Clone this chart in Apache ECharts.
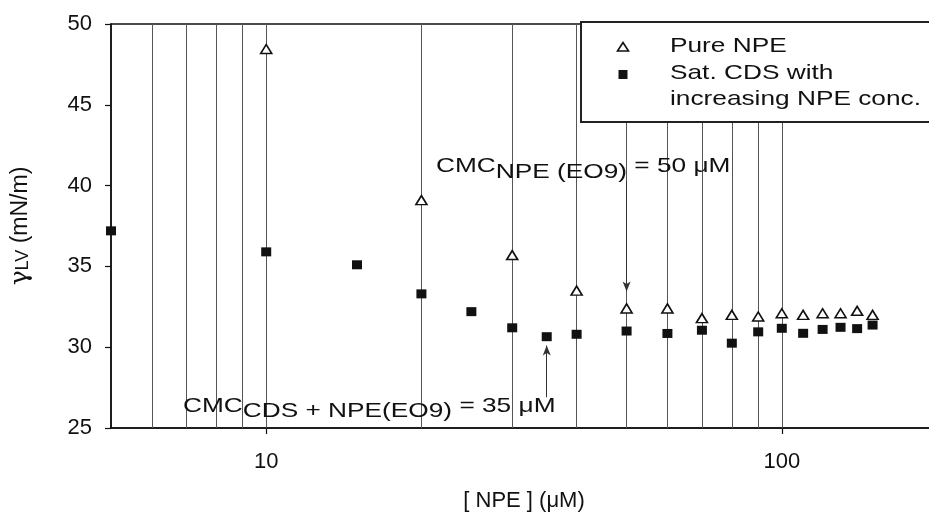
<!DOCTYPE html>
<html>
<head>
<meta charset="utf-8">
<script src="https://cdn.jsdelivr.net/npm/echarts@6.0.0/dist/echarts.min.js"></script>
<style>
  html, body { margin: 0; padding: 0; background: #fff; }
  #chart { width: 929px; height: 513px; }
</style>
</head>
<body>
<div id="chart"></div>
<script>
// Surface tension of pure NPE solutions and of saturated CDS solutions with added NPE
const concNPE  = [10, 20, 30, 40, 50, 60, 70, 80, 90, 100, 110, 120, 130, 140, 150];
const gammaNPE = [48.45, 39.1, 35.7, 33.5, 32.4, 32.4, 31.8, 32.0, 31.9, 32.1, 32.0, 32.1, 32.1, 32.25, 32.0];

const concCDS  = [5, 10, 15, 20, 25, 30, 35, 40, 50, 60, 70, 80, 90, 100, 110, 120, 130, 140, 150];
const gammaCDS = [37.2, 35.9, 35.1, 33.3, 32.2, 31.2, 30.65, 30.8, 31.0, 30.85, 31.05, 30.25, 30.95, 31.17, 30.86, 31.1, 31.23, 31.15, 31.37];

// vertical reference lines at every decade step between 6 and 100
const gridConc = [6, 7, 8, 9, 10, 20, 30, 40, 50, 60, 70, 80, 90, 100];

// labelled x ticks
const xTickLabels = [10, 100];

// CMC markers: concentration, arrow start and arrow tip (mN/m)
const cmcNPE = [50, 40.3, 33.45];
const cmcMix = [35, 26.9, 30.1];

const FONT = '"Liberation Sans", Arial, Helvetica, sans-serif';
const INK = '#111';

const chart = echarts.init(document.getElementById('chart'));

const pairs = (xs, ys) => xs.map((x, i) => [x, ys[i]]);

chart.setOption({
  animation: false,
  backgroundColor: '#fff',
  grid: {
    left: 111, top: 24, bottom: 85, width: 826,
    outerBoundsMode: 'none', containLabel: false,
    show: true, borderColor: INK, borderWidth: 1.5, backgroundColor: 'transparent'
  },
  xAxis: {
    type: 'log', logBase: 10, min: 5, max: 200,
    name: '[ NPE ] (μM)', nameLocation: 'middle', nameGap: 62,
    nameTextStyle: { fontSize: 22, fontFamily: FONT, color: INK },
    axisLine: { lineStyle: { color: INK, width: 1.5 } },
    axisTick: { show: true, length: 6, lineStyle: { color: INK, width: 1.2 } },
    axisLabel: {
      fontSize: 22, fontFamily: FONT, color: INK, margin: 23,
      showMinLabel: false, showMaxLabel: false,
      formatter: v => (xTickLabels.indexOf(Math.round(v)) >= 0 ? String(Math.round(v)) : '')
    },
    splitLine: { show: false }
  },
  yAxis: {
    type: 'value', min: 25, max: 50, interval: 5,
    name: '{g|γ}{s|LV}{n| (mN/m)}', nameLocation: 'middle', nameGap: 78,
    nameTextStyle: {
      fontSize: 22, fontFamily: FONT, color: INK,
      rich: {
        g: { fontSize: 25, fontFamily: '"DejaVu Serif", serif', color: INK },
        s: { fontSize: 18, fontFamily: FONT, color: INK, padding: [5, 0, 0, 0] },
        n: { fontSize: 23, fontFamily: FONT, color: INK }
      }
    },
    axisLine: { show: true, lineStyle: { color: INK, width: 1.5 } },
    axisTick: { show: true, length: 6, lineStyle: { color: INK, width: 1.2 } },
    axisLabel: { fontSize: 22, fontFamily: FONT, color: INK, margin: 19 },
    splitLine: { show: false }
  },
  series: [
    {
      name: 'Pure NPE',
      type: 'scatter',
      z: 3,
      data: pairs(concNPE, gammaNPE),
      symbol: 'triangle',
      symbolSize: [11, 9],
      itemStyle: { color: '#fff', borderColor: INK, borderWidth: 1.6, opacity: 1 },
      markLine: {
        silent: true, z: 1,
        symbol: ['none', 'none'],
        label: { show: false },
        lineStyle: { color: '#555', width: 1, type: 'solid' },
        data: gridConc.map(v => ({ xAxis: v }))
      }
    },
    {
      name: 'Sat. CDS with increasing NPE conc.',
      type: 'scatter',
      z: 4,
      data: pairs(concCDS, gammaCDS),
      symbol: 'rect',
      symbolSize: [10, 9],
      itemStyle: { color: INK, opacity: 1 },
      markLine: {
        silent: true, z: 2,
        symbol: ['none', 'arrow'],
        symbolSize: [6, 10],
        label: { show: false },
        lineStyle: { color: '#333', width: 1, type: 'solid' },
        data: [
          [{ coord: [cmcNPE[0], cmcNPE[1]] }, { coord: [cmcNPE[0], cmcNPE[2]] }],
          [{ coord: [cmcMix[0], cmcMix[1]] }, { coord: [cmcMix[0], cmcMix[2]] }]
        ]
      }
    }
  ],
  graphic: [
    // legend box
    { type: 'rect', z: 100, shape: { x: 581, y: 22, width: 400, height: 100 },
      style: { fill: '#fff', stroke: '#222', lineWidth: 2 } },
    { type: 'polygon', z: 101, shape: { points: [[623, 42.5], [628.5, 51], [617.5, 51]] },
      style: { fill: '#fff', stroke: INK, lineWidth: 1.6 } },
    { type: 'rect', z: 101, shape: { x: 618.5, y: 70, width: 9, height: 9 },
      style: { fill: INK } },
    { type: 'text', z: 101, x: 670, y: 46, scaleX: 1.25,
      style: { text: 'Pure NPE', fontSize: 21, fontFamily: FONT, fill: INK, align: 'left', verticalAlign: 'middle' } },
    { type: 'text', z: 101, x: 670, y: 73, scaleX: 1.25,
      style: { text: 'Sat. CDS with', fontSize: 21, fontFamily: FONT, fill: INK, align: 'left', verticalAlign: 'middle' } },
    { type: 'text', z: 101, x: 670, y: 99.5, scaleX: 1.25,
      style: { text: 'increasing NPE conc.', fontSize: 21, fontFamily: FONT, fill: INK, align: 'left', verticalAlign: 'middle' } },
    // CMC annotations
    { type: 'text', z: 50, x: 436, y: 169, scaleX: 1.25,
      style: {
        text: '{m|CMC}{s|NPE (EO9)}{m| = 50 μM}',
        align: 'left', verticalAlign: 'middle',
        rich: {
          m: { fontSize: 21, fontFamily: FONT, fill: INK, padding: [0, 0, 6, 0] },
          s: { fontSize: 21, fontFamily: FONT, fill: INK, padding: [6, 0, 0, 0] }
        }
      } },
    { type: 'text', z: 50, x: 183, y: 408.5, scaleX: 1.25,
      style: {
        text: '{m|CMC}{s|CDS + NPE(EO9)}{m| = 35 μM}',
        align: 'left', verticalAlign: 'middle',
        rich: {
          m: { fontSize: 21, fontFamily: FONT, fill: INK, padding: [0, 0, 5, 0] },
          s: { fontSize: 21, fontFamily: FONT, fill: INK, padding: [5, 0, 0, 0] }
        }
      } }
  ]
});
</script>
</body>
</html>
